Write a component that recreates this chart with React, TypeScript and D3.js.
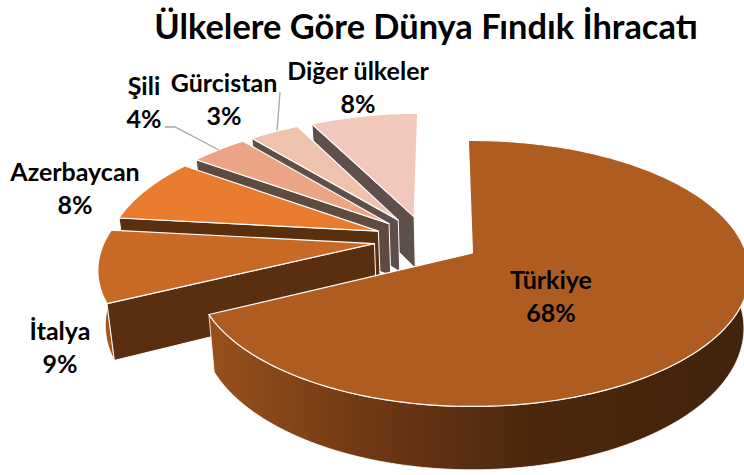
import React from "react";
import * as d3 from "d3";

const categories = ["Türkiye", "İtalya", "Azerbaycan", "Şili", "Gürcistan", "Diğer ülkeler"];
const shares = [68, 9, 8, 4, 3.49, 7.51];
const topColors = ["#ae5c20", "#c86a26", "#e97b2e", "#eba585", "#efc2ae", "#f3c8bc"];
const cutColors = ["#5a2f10", "#5a2f10", "#5a2f10", "#5f4a42", "#5f4f4a", "#5f4f4a"];
const wallColors = ["url(#wall)", "#a5561f", "#8f4a1a", "#8f6a58", "#9a7d70", "#9f8276"];
const explodes = [0.205, 0.19, 0.19, 0.19, 0.19, 0.19];
const labelAnchors: [number, number][] = [[551, 281], [60, 332], [75, 173], [144, 87], [224, 84], [358, 72]];
const title = "Ülkelere Göre Dünya Fındık İhracatı";

const W = 744, H = 475;
const deg = Math.PI / 180;
const startAngle = -1 * deg;
const pieCenter = { X: -0.177, Y: 0.16 };
const persp = 0.155;
const depth = 54;
const lean = 0.02;
const sx = d3.scaleLinear().domain([0, 1]).range([473, 473 + 276]);
const sy = d3.scaleLinear().domain([0, 1]).range([260, 260 - 132]);
const project = (X: number, Y: number, z = 0): [number, number] => {
  const w = 1 / (1 + persp * Y);
  const x = sx(X * w);
  return [x + z * lean * (sx(0) - x), sy(Y * w) + z * depth * w];
};
const arcs = d3.pie<number>().sort(null).startAngle(startAngle).endAngle(startAngle + 2 * Math.PI)(shares);
const line = d3.line();

const rangeA = (a: number, b: number) => {
  const n = Math.max(2, Math.ceil((b - a) / (1 * deg)));
  return d3.range(n + 1).map((i) => a + ((b - a) * i) / n);
};

export default function App() {
  const pieces = arcs.map((arc, i) => {
    const mid = (arc.startAngle + arc.endAngle) / 2;
    const o = {
      X: pieCenter.X + explodes[i] * Math.sin(mid),
      Y: pieCenter.Y + explodes[i] * Math.cos(mid),
    };
    const pt = (a: number, z = 0) => project(o.X + Math.sin(a), o.Y + Math.cos(a), z);
    const apex = project(o.X, o.Y);
    const apexB = project(o.X, o.Y, 1);
    const top = [apex, ...rangeA(arc.startAngle, arc.endAngle).map((a) => pt(a))] as [number, number][];
    const wa = Math.max(arc.startAngle, 80 * deg);
    const wb = Math.min(arc.endAngle, 268 * deg);
    let wall: string | null = null;
    if (wb > wa) {
      const as = rangeA(wa, wb);
      wall = line([...as.map((a) => pt(a)), ...as.slice().reverse().map((a) => pt(a, 1))] as [number, number][]) + "Z";
    }
    const cut = i === 0 ? null : line([pt(arc.startAngle), apex, apexB, pt(arc.startAngle, 1)]) + "Z";
    return { i, top: line(top) + "Z", wall, cut };
  });
  const order = [5, 4, 3, 2, 1, 0];
  const fontFamily = "Lato, Carlito, sans-serif";
  return (
    <svg width={W} height={H} style={{ position: "absolute", left: 0, top: 0, background: "#fff" }} fontFamily={fontFamily}>
      <defs>
        <linearGradient id="wall" gradientUnits="userSpaceOnUse" x1={210} x2={744} y1={0} y2={0}>
          <stop offset="0" stopColor="#99501c" />
          <stop offset="0.3" stopColor="#6e3814" />
          <stop offset="0.6" stopColor="#4c270c" />
          <stop offset="1" stopColor="#42230b" />
        </linearGradient>
      </defs>
      <path d="M280,92L277,132" fill="none" stroke="#a6a6a6" strokeWidth={1.3} />
      {order.map((i) => {
        const p = pieces[i];
        return (
          <g key={categories[i]}>
            {p.wall && <path d={p.wall} fill={wallColors[i]} stroke="#fff" strokeWidth={0.8} />}
            {p.cut && <path d={p.cut} fill={cutColors[i]} stroke="#fff" strokeWidth={1} />}
            <path d={p.top} fill={topColors[i]} stroke="#fff" strokeWidth={1.2} strokeLinejoin="round" />
          </g>
        );
      })}
      <path d="M165,127L175,127L219,150" fill="none" stroke="#a6a6a6" strokeWidth={1.3} />
      <text x={426} y={39} textAnchor="middle" fontSize={34.4} fontWeight={700} fill="#000">{title}</text>
      {categories.map((c, i) => (
        <text key={c} textAnchor="middle" fontSize={25} fontWeight={700} fill="#000">
          <tspan x={labelAnchors[i][0]} y={labelAnchors[i][1] + 8}>{c}</tspan>
          <tspan x={labelAnchors[i][0]} y={labelAnchors[i][1] + 41}>{Math.round(shares[i])}%</tspan>
        </text>
      ))}
    </svg>
  );
}
